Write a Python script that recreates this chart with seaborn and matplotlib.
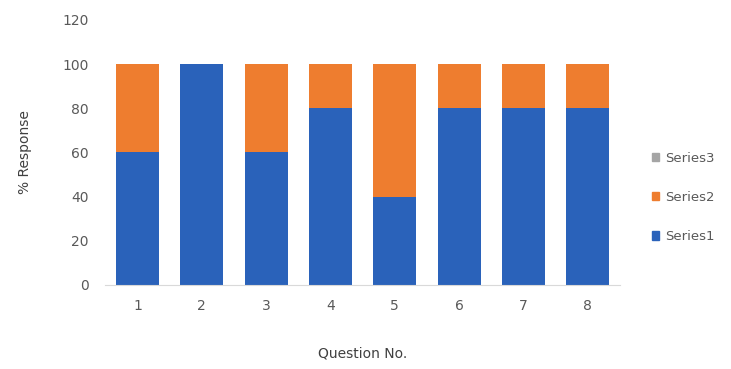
import pandas as pd
import matplotlib.pyplot as plt
import seaborn as sns
from matplotlib.patches import Patch

questions = ['1', '2', '3', '4', '5', '6', '7', '8']
series1 = [60, 100, 60, 80, 40, 80, 80, 80]
series2 = [40, 0, 40, 20, 60, 20, 20, 20]
series3 = [0, 0, 0, 0, 0, 0, 0, 0]

blue = '#2A62BA'
orange = '#EE7D2F'
gray = '#A5A5A5'

df = pd.DataFrame({'Question': questions, 'Series1': series1,
                   'Series2': series2, 'Series3': series3})
df['top2'] = df['Series1'] + df['Series2']
df['top3'] = df['top2'] + df['Series3']

sns.set_style('white')
fig = plt.figure(figsize=(7.31, 3.69), dpi=100)
ax = fig.add_axes([0.144, 0.228, 0.704, 0.718])

# stacked: draw cumulative totals back to front
for col, c in [('top3', gray), ('top2', orange), ('Series1', blue)]:
    sns.barplot(data=df, x='Question', y=col, color=c, width=0.67, ax=ax,
                saturation=1, linewidth=0)

ax.set_ylim(0, 120)
ax.set_yticks(range(0, 121, 20))
ax.set_xlim(-0.5, 7.5)
ax.tick_params(axis='both', labelsize=10, colors='#595959', length=0)
ax.tick_params(axis='y', pad=12)
ax.tick_params(axis='x', pad=10)
ax.set_xlabel('Question No.', fontsize=10, color='#404040', labelpad=24)
ax.set_ylabel('% Response', fontsize=10, color='#404040', labelpad=22)
for s in ['top', 'right', 'left']:
    ax.spines[s].set_visible(False)
ax.spines['bottom'].set_color('#D9D9D9')

handles = [Patch(color=gray, label='Series3'),
           Patch(color=orange, label='Series2'),
           Patch(color=blue, label='Series1')]
fig.legend(handles=handles, loc='center left', bbox_to_anchor=(0.875, 0.465),
           frameon=False, fontsize=9.5, handlelength=0.6, handleheight=0.6,
           labelspacing=2.0, handletextpad=0.4, labelcolor='#595959')

fig.savefig('out.png', dpi=100)
